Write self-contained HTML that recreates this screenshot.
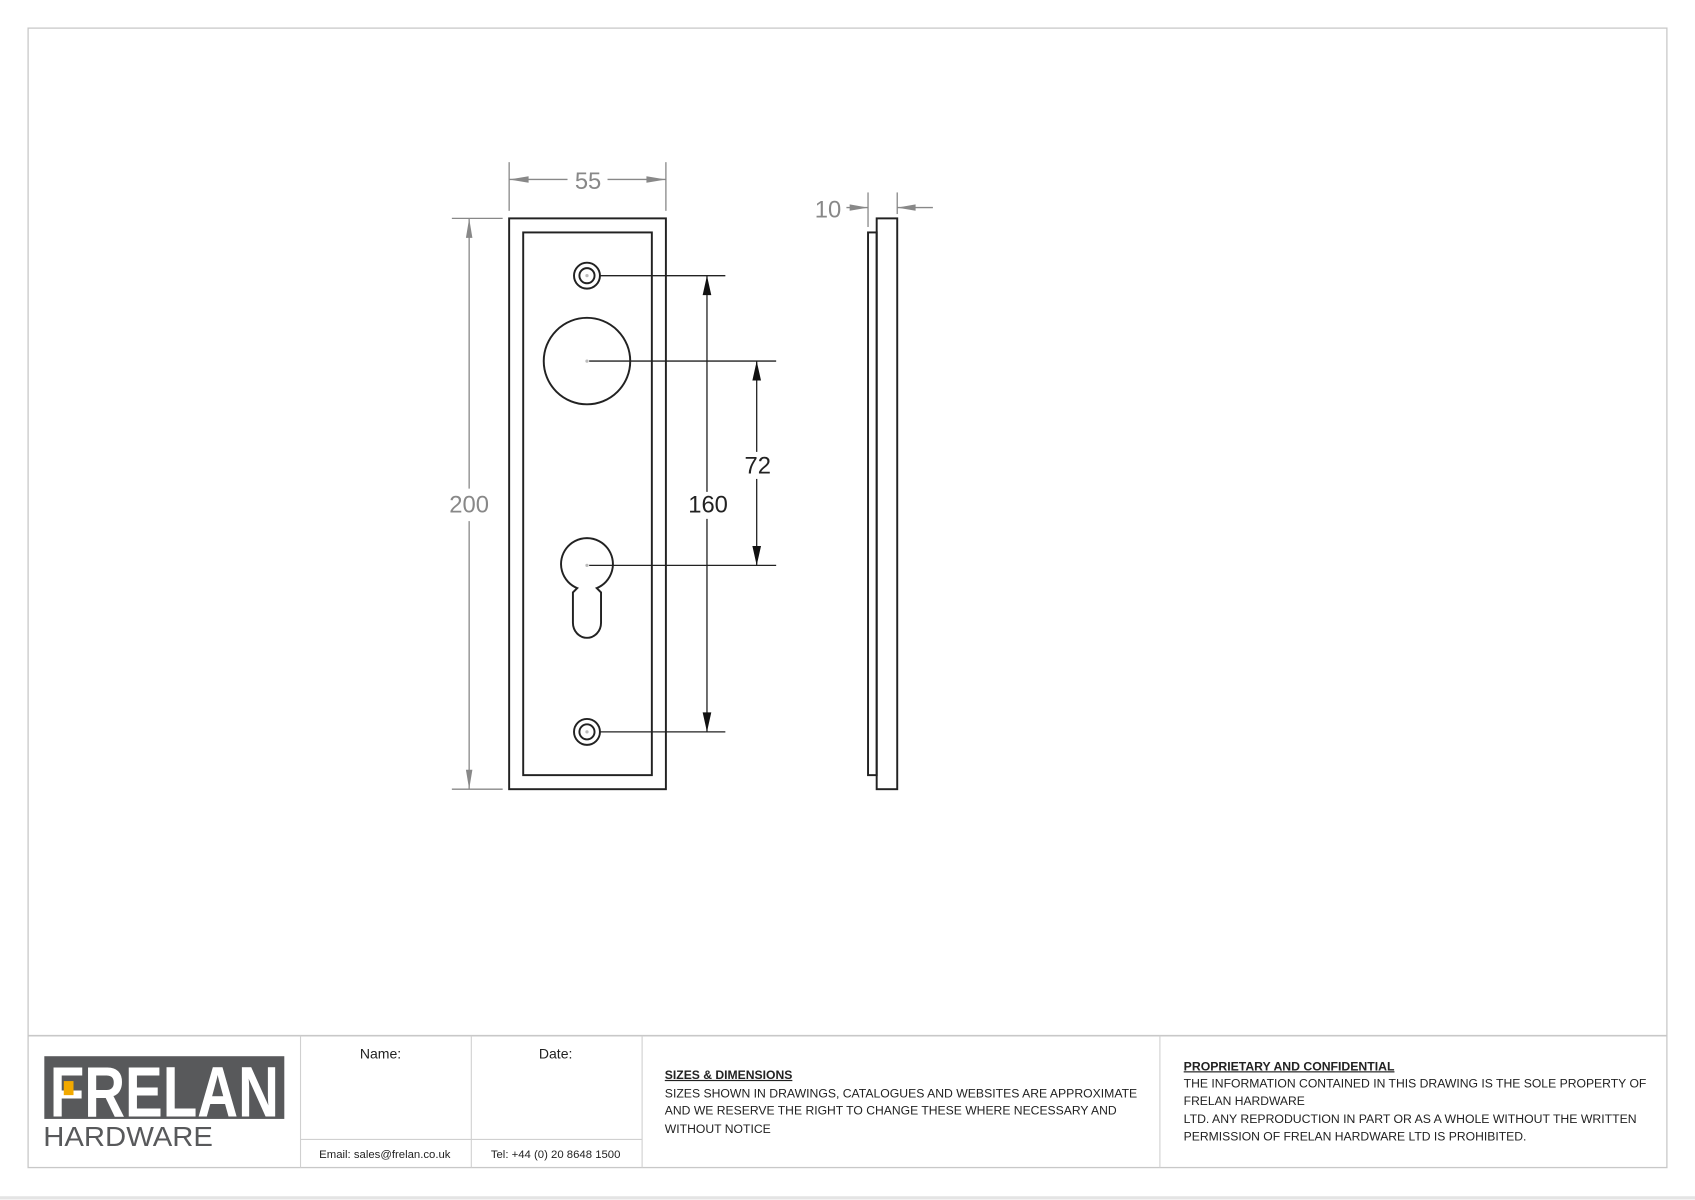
<!DOCTYPE html>
<html><head><meta charset="utf-8"><style>html,body{margin:0;padding:0;background:#fff}svg{display:block}</style></head>
<body>
<svg width="1695" height="1200" viewBox="0 0 1568 1110" preserveAspectRatio="none" xmlns="http://www.w3.org/2000/svg" font-family="Liberation Sans, sans-serif">
<rect x="0" y="0" width="1568" height="1110" fill="#fff"/>
<line x1="0" y1="1108" x2="1568" y2="1108" stroke="#e4e4e4" stroke-width="3"/>
<rect x="26" y="26" width="1516" height="1054" fill="none" stroke="#c8c8c8" stroke-width="1.2"/>
<line x1="26" y1="958" x2="1542" y2="958" stroke="#c8c8c8" stroke-width="1.5"/>
<g stroke="#d0d0d0" stroke-width="1">
<line x1="278" y1="958" x2="278" y2="1080"/><line x1="436" y1="958" x2="436" y2="1080"/>
<line x1="594" y1="958" x2="594" y2="1080"/><line x1="1073" y1="958" x2="1073" y2="1080"/>
<line x1="278" y1="1054" x2="594" y2="1054"/>
</g>
<rect x="41" y="977" width="222" height="58" fill="#58595b"/>
<text x="152" y="1033" font-size="66" font-weight="bold" fill="#fff" text-anchor="middle" textLength="212" lengthAdjust="spacingAndGlyphs" font-family="Liberation Sans Narrow, Liberation Sans, sans-serif">FRELAN</text>
<rect x="59" y="1000" width="9" height="13" fill="#f2a900"/>
<text x="40" y="1060" font-size="26" fill="#58595b" textLength="157" lengthAdjust="spacingAndGlyphs">HARDWARE</text>
<g font-size="13" fill="#222" text-anchor="middle"><text x="352" y="979">Name:</text><text x="514" y="979">Date:</text></g>
<g font-size="10.5" fill="#222" text-anchor="middle"><text x="356" y="1071">Email: sales@frelan.co.uk</text><text x="514" y="1071">Tel: +44 (0) 20  8648 1500</text></g>
<g font-size="11" fill="#222">
<text x="615" y="998" font-weight="bold" text-decoration="underline" textLength="118" lengthAdjust="spacingAndGlyphs">SIZES &amp; DIMENSIONS</text>
<text x="615" y="1015" textLength="437" lengthAdjust="spacingAndGlyphs">SIZES SHOWN IN DRAWINGS, CATALOGUES AND WEBSITES ARE APPROXIMATE</text>
<text x="615" y="1031" textLength="418" lengthAdjust="spacingAndGlyphs">AND WE RESERVE THE RIGHT TO CHANGE THESE WHERE NECESSARY AND</text>
<text x="615" y="1048" textLength="98" lengthAdjust="spacingAndGlyphs">WITHOUT NOTICE</text>
<text x="1095" y="990" font-weight="bold" text-decoration="underline" textLength="195" lengthAdjust="spacingAndGlyphs">PROPRIETARY AND CONFIDENTIAL</text>
<text x="1095" y="1006" textLength="428" lengthAdjust="spacingAndGlyphs">THE INFORMATION CONTAINED IN THIS DRAWING IS THE SOLE PROPERTY OF</text>
<text x="1095" y="1022" textLength="112" lengthAdjust="spacingAndGlyphs">FRELAN HARDWARE</text>
<text x="1095" y="1039" textLength="419" lengthAdjust="spacingAndGlyphs">LTD. ANY REPRODUCTION IN PART OR AS A WHOLE WITHOUT THE WRITTEN</text>
<text x="1095" y="1055" textLength="317" lengthAdjust="spacingAndGlyphs">PERMISSION OF FRELAN HARDWARE LTD IS PROHIBITED.</text>
</g>
<g fill="none" stroke="#222" stroke-width="1.8">
<rect x="471" y="202" width="145" height="528"/>
<rect x="484" y="215" width="119" height="502"/>
<circle cx="543" cy="255" r="12"/><circle cx="543" cy="255" r="7"/>
<circle cx="543" cy="677" r="12"/><circle cx="543" cy="677" r="7"/>
<circle cx="543" cy="334" r="40"/>
<path d="M534 544 A24 24 0 1 1 552 544 L556 548 L556 576 A13 14 0 0 1 530 576 L530 548 Z"/>
<rect x="811" y="202" width="19" height="528"/>
<rect x="803" y="215" width="8" height="502"/>
</g>
<g fill="#bbb"><circle cx="543" cy="334" r="1.5"/><circle cx="543" cy="523" r="1.5"/><circle cx="543" cy="255" r="1.5"/><circle cx="543" cy="677" r="1.5"/></g>
<g stroke="#222" stroke-width="1.2">
<line x1="555" y1="255" x2="671" y2="255"/><line x1="555" y1="677" x2="671" y2="677"/>
<line x1="545" y1="334" x2="718" y2="334"/><line x1="545" y1="523" x2="718" y2="523"/>
<line x1="654" y1="255" x2="654" y2="455"/><line x1="654" y1="480" x2="654" y2="677"/>
<line x1="700" y1="334" x2="700" y2="418"/><line x1="700" y1="443" x2="700" y2="523"/>
</g>
<g fill="#111">
<path d="M654 255 L650 273 L658 273Z"/><path d="M654 677 L650 659 L658 659Z"/>
<path d="M700 334 L696 352 L704 352Z"/><path d="M700 523 L696 505 L704 505Z"/>
</g>
<g font-size="22" fill="#222" text-anchor="middle"><text x="655" y="474">160</text><text x="701" y="438">72</text></g>
<g stroke="#888" stroke-width="1.2">
<line x1="471" y1="150" x2="471" y2="195"/><line x1="616" y1="150" x2="616" y2="195"/>
<line x1="471" y1="166" x2="525" y2="166"/><line x1="562" y1="166" x2="616" y2="166"/>
<line x1="418" y1="202" x2="465" y2="202"/><line x1="418" y1="730" x2="465" y2="730"/>
<line x1="434" y1="202" x2="434" y2="452"/><line x1="434" y1="482" x2="434" y2="730"/>
<line x1="803" y1="178" x2="803" y2="210"/><line x1="830" y1="178" x2="830" y2="198"/>
<line x1="783" y1="192" x2="803" y2="192"/><line x1="830" y1="192" x2="863" y2="192"/>
</g>
<g fill="#888">
<path d="M471 166 L489 163 L489 169Z"/><path d="M616 166 L598 163 L598 169Z"/>
<path d="M434 202 L431 220 L437 220Z"/><path d="M434 730 L431 712 L437 712Z"/>
<path d="M803 192 L786 189 L786 195Z"/><path d="M830 192 L847 189 L847 195Z"/>
</g>
<g font-size="22" fill="#888" text-anchor="middle"><text x="544" y="175">55</text><text x="434" y="474">200</text><text x="766" y="201">10</text></g>
</svg>
</body></html>
